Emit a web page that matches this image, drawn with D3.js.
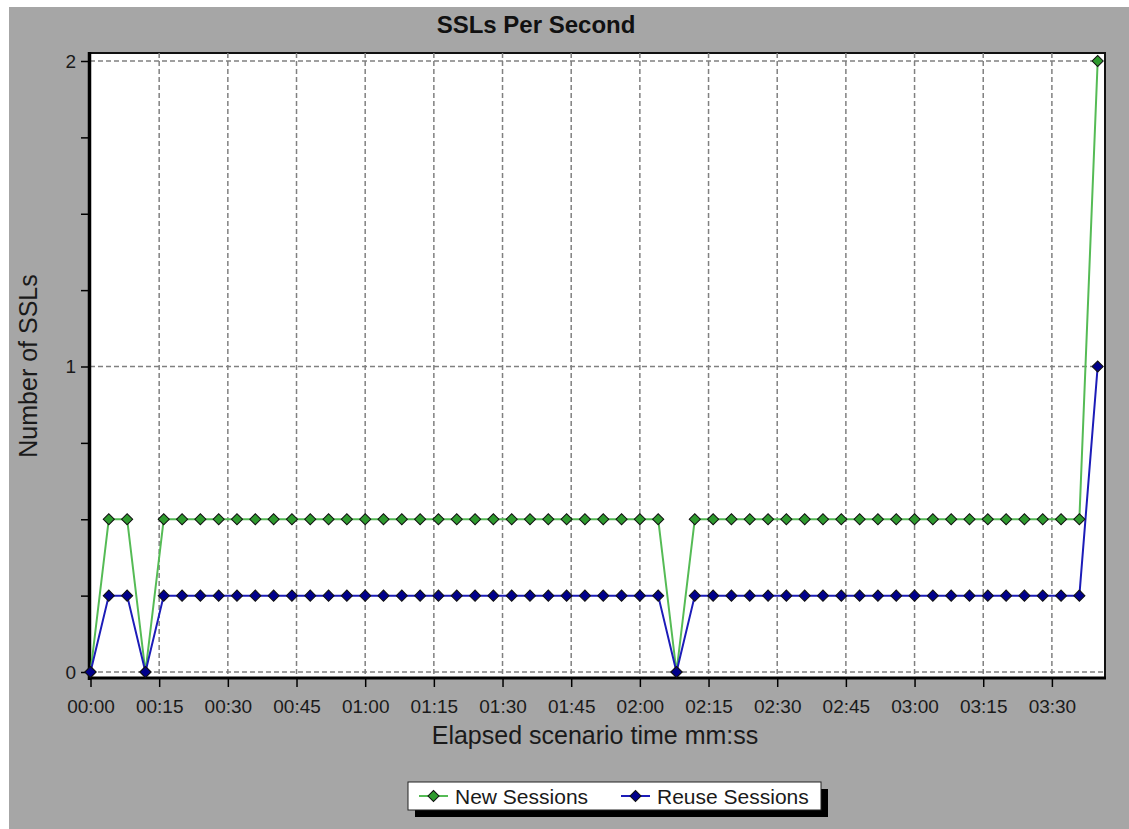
<!DOCTYPE html>
<html>
<head>
<meta charset="utf-8">
<script src="https://cdn.jsdelivr.net/npm/d3@7"></script>
<style>
  html, body { margin: 0; padding: 0; background: #a6a6a6; overflow: hidden; }
  svg { display: block; }
  text { font-family: Arial, "Liberation Sans", sans-serif; }
</style>
</head>
<body>
<div id="chart"></div>
<script>
// chart data (elapsed seconds, 4s granularity)
const elapsed = [0, 4, 8, 12, 16, 20, 24, 28, 32, 36, 40, 44, 48, 52, 56, 60, 64, 68, 72, 76,
    80, 84, 88, 92, 96, 100, 104, 108, 112, 116, 120, 124, 128, 132, 136, 140, 144, 148, 152, 156,
    160, 164, 168, 172, 176, 180, 184, 188, 192, 196, 200, 204, 208, 212, 216, 220];
const newSessions = [0, 0.5, 0.5, 0, 0.5, 0.5, 0.5, 0.5, 0.5, 0.5, 0.5, 0.5, 0.5, 0.5, 0.5, 0.5, 0.5, 0.5, 0.5, 0.5,
    0.5, 0.5, 0.5, 0.5, 0.5, 0.5, 0.5, 0.5, 0.5, 0.5, 0.5, 0.5, 0, 0.5, 0.5, 0.5, 0.5, 0.5, 0.5, 0.5,
    0.5, 0.5, 0.5, 0.5, 0.5, 0.5, 0.5, 0.5, 0.5, 0.5, 0.5, 0.5, 0.5, 0.5, 0.5, 2];
const reuseSessions = [0, 0.25, 0.25, 0, 0.25, 0.25, 0.25, 0.25, 0.25, 0.25, 0.25, 0.25, 0.25, 0.25, 0.25, 0.25, 0.25, 0.25, 0.25, 0.25,
    0.25, 0.25, 0.25, 0.25, 0.25, 0.25, 0.25, 0.25, 0.25, 0.25, 0.25, 0.25, 0, 0.25, 0.25, 0.25, 0.25, 0.25, 0.25, 0.25,
    0.25, 0.25, 0.25, 0.25, 0.25, 0.25, 0.25, 0.25, 0.25, 0.25, 0.25, 0.25, 0.25, 0.25, 0.25, 1];
const xTicks = [0, 15, 30, 45, 60, 75, 90, 105, 120, 135, 150, 165, 180, 195, 210];
const yTicks = [0, 0.25, 0.5, 0.75, 1, 1.25, 1.5, 1.75, 2];
const yGrid = [0, 1, 2];
const seriesNames = ["New Sessions", "Reuse Sessions"];

const width = 1129, height = 829;
const plot = {left: 90, right: 1105, top: 53, bottom: 678};

const x = d3.scaleLinear([0, 221.6], [90.5, plot.right]);
const y = d3.scaleLinear([0, 2], [672, 61]);

const fmt = s => `${String(Math.floor(s / 60)).padStart(2, "0")}:${String(s % 60).padStart(2, "0")}`;

const series = [
    {name: seriesNames[0], values: newSessions, line: "#55bb55", fill: "#2e9a2e"},
    {name: seriesNames[1], values: reuseSessions, line: "#1c1cb8", fill: "#00008b"}
];

const svg = d3.select("#chart").append("svg")
    .attr("width", width)
    .attr("height", height)
    .attr("viewBox", [0, 0, width, height]);

// grey panel with thin white strip top / left
svg.append("rect")
    .attr("width", width).attr("height", height)
    .attr("fill", "#a6a6a6");
svg.append("rect")
    .attr("width", width).attr("height", 7)
    .attr("fill", "#fff");
svg.append("rect")
    .attr("width", 9).attr("height", height)
    .attr("fill", "#fff");

// plot area
svg.append("rect")
    .attr("x", plot.left).attr("y", plot.top)
    .attr("width", plot.right - plot.left).attr("height", plot.bottom - plot.top)
    .attr("fill", "#fff")
    .attr("stroke", "#111")
    .attr("stroke-width", 2);

// grid
const grid = svg.append("g")
    .attr("stroke", "#808080")
    .attr("stroke-width", 1.5)
    .attr("stroke-dasharray", "5,3");
grid.selectAll("line.h")
    .data(yGrid)
    .join("line")
    .attr("class", "h")
    .attr("x1", plot.left).attr("x2", plot.right)
    .attr("y1", d => y(d)).attr("y2", d => y(d));
grid.selectAll("line.v")
    .data(xTicks.filter(d => d > 0))
    .join("line")
    .attr("class", "v")
    .attr("x1", d => x(d)).attr("x2", d => x(d))
    .attr("y1", plot.top).attr("y2", plot.bottom);

// axes
const xAxis = d3.axisBottom(x)
    .tickValues(xTicks)
    .tickFormat(fmt)
    .tickSize(9)
    .tickPadding(13);
svg.append("g")
    .attr("transform", `translate(0,${plot.bottom})`)
    .call(xAxis)
    .call(g => g.select(".domain").remove())
    .call(g => g.selectAll(".tick line").attr("stroke", "#000").attr("stroke-width", 1.5))
    .call(g => g.selectAll(".tick text")
        .attr("fill", "#1a1a1a")
        .style("font-size", "19px"));

const yAxis = d3.axisLeft(y)
    .tickValues(yTicks)
    .tickFormat(d => Number.isInteger(d) ? d : "")
    .tickSize(9)
    .tickPadding(5);
svg.append("g")
    .attr("transform", `translate(${plot.left},0)`)
    .call(yAxis)
    .call(g => g.select(".domain").remove())
    .call(g => g.selectAll(".tick line").attr("stroke", "#000").attr("stroke-width", 1.5))
    .call(g => g.selectAll(".tick text")
        .attr("fill", "#1a1a1a")
        .style("font-size", "19px"));

// thick axis lines
svg.append("line")
    .attr("x1", 89.5).attr("x2", 89.5)
    .attr("y1", plot.top - 1).attr("y2", plot.bottom + 2)
    .attr("stroke", "#000").attr("stroke-width", 3.5);
svg.append("line")
    .attr("x1", 88).attr("x2", plot.right + 1)
    .attr("y1", plot.bottom).attr("y2", plot.bottom)
    .attr("stroke", "#000").attr("stroke-width", 3);

// lines + markers
const line = d3.line()
    .x((d, i) => x(elapsed[i]))
    .y(d => y(d));
const diamond = d3.symbol(d3.symbolSquare, 62)();

for (const s of series) {
    svg.append("path")
        .attr("d", line(s.values))
        .attr("fill", "none")
        .attr("stroke", s.line)
        .attr("stroke-width", 2);
}
for (const s of series) {
    svg.append("g")
        .selectAll("path")
        .data(s.values)
        .join("path")
        .attr("d", diamond)
        .attr("transform", (d, i) => `translate(${x(elapsed[i])},${y(d)}) rotate(45)`)
        .attr("fill", s.fill)
        .attr("stroke", "#111")
        .attr("stroke-width", 1);
}

// titles
svg.append("text")
    .attr("x", 536).attr("y", 33)
    .attr("text-anchor", "middle")
    .attr("font-weight", "bold")
    .style("font-size", "24px")
    .attr("fill", "#111")
    .text("SSLs Per Second");

svg.append("text")
    .attr("x", 595).attr("y", 744)
    .attr("text-anchor", "middle")
    .style("font-size", "25px")
    .attr("fill", "#1a1a1a")
    .text("Elapsed scenario time mm:ss");

svg.append("text")
    .attr("transform", "translate(37,366) rotate(-90)")
    .attr("text-anchor", "middle")
    .style("font-size", "25px")
    .attr("fill", "#1a1a1a")
    .text("Number of SSLs");

// legend
const legend = svg.append("g");
legend.append("rect")
    .attr("x", 415).attr("y", 789)
    .attr("width", 413).attr("height", 28)
    .attr("fill", "#000");
legend.append("rect")
    .attr("x", 408).attr("y", 782)
    .attr("width", 413).attr("height", 28)
    .attr("fill", "#fff")
    .attr("stroke", "#222")
    .attr("stroke-width", 1);

const legendX = [419, 621];
series.forEach((s, i) => {
    const lx = legendX[i];
    legend.append("line")
        .attr("x1", lx).attr("x2", lx + 29)
        .attr("y1", 796).attr("y2", 796)
        .attr("stroke", s.line).attr("stroke-width", 2);
    legend.append("path")
        .attr("d", diamond)
        .attr("transform", `translate(${lx + 14.5},796) rotate(45)`)
        .attr("fill", s.fill)
        .attr("stroke", "#111");
    legend.append("text")
        .attr("x", lx + 36).attr("y", 804)
        .style("font-size", "21px")
        .attr("fill", "#1a1a1a")
        .text(s.name);
});
</script>
</body>
</html>
